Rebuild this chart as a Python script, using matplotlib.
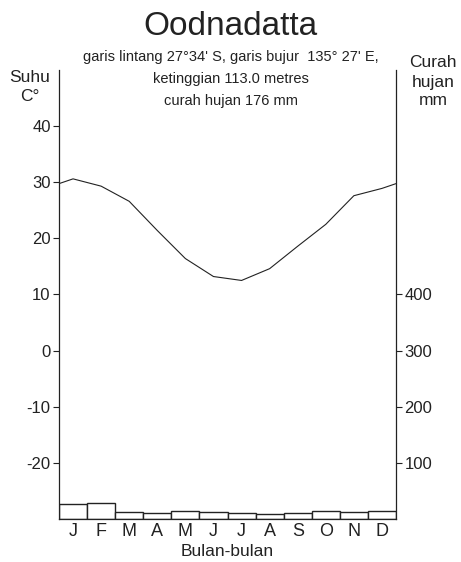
import numpy as np
import matplotlib
matplotlib.use("Agg")
import matplotlib.pyplot as plt

plt.rcParams['font.family'] = ['Liberation Sans', 'DejaVu Sans']
plt.rcParams['axes.unicode_minus'] = False

# Data iklim Oodnadatta
bulan = ["J", "F", "M", "A", "M", "J", "J", "A", "S", "O", "N", "D"]
suhu = [30.6, 29.3, 26.6, 21.4, 16.4, 13.2, 12.5, 14.6, 18.6, 22.5, 27.6, 28.9]
hujan = [27, 28, 13, 10, 15, 12, 11, 9, 10, 14, 12, 15]
suhu_ticks = [-20, -10, 0, 10, 20, 30, 40]
hujan_ticks = [100, 200, 300, 400]

warna = "#222222"

fig = plt.figure(figsize=(4.61, 5.62), dpi=100)
ax = fig.add_axes([0.128, 0.0765, 0.731, 0.799])
ax2 = ax.twinx()

x = np.arange(12) + 0.5

# batang curah hujan (sumbu kanan)
ax2.bar(x, hujan, width=1.0, color="white", edgecolor=warna, linewidth=1.0)
ax2.set_ylim(0, 800)
ax2.set_yticks(hujan_ticks)
ax2.tick_params(axis="y", length=4, width=0.8, pad=2, labelsize=12, colors=warna)

# garis suhu, diulang di ujung supaya menyambung sampai tepi
x_garis = np.concatenate([[-0.5], x, [12.5]])
y_garis = np.concatenate([[suhu[-1]], suhu, [suhu[0]]])
ax.plot(x_garis, y_garis, color=warna, linewidth=0.8, zorder=5)
ax.set_zorder(ax2.get_zorder() + 1)
ax.patch.set_visible(False)

ax.set_xlim(0, 12)
ax.set_ylim(-30, 50)
ax.set_yticks(suhu_ticks)
ax.set_xticks(x)
ax.set_xticklabels(bulan)
ax.tick_params(axis="x", length=0, pad=3, labelsize=13, colors=warna)
ax.tick_params(axis="y", length=4, width=0.8, pad=2, labelsize=12, colors=warna)
ax.set_xlabel("Bulan-bulan", fontsize=12.5, color=warna, labelpad=3)

# satu set garis tepi saja
for s in ("top", "right"):
    ax.spines[s].set_visible(False)
for s in ("top", "left", "bottom"):
    ax2.spines[s].set_visible(False)
for sp in (ax.spines["left"], ax.spines["bottom"], ax2.spines["right"]):
    sp.set_linewidth(0.9)
    sp.set_color(warna)

fig.text(0.5, 0.9377, "Oodnadatta", ha="center", va="baseline", fontsize=24, color=warna)
fig.text(0.5, 0.899, "garis lintang 27°34' S, garis bujur  135° 27' E,", ha="center", va="center",
         fontsize=10.5, color=warna)
fig.text(0.5, 0.860, "ketinggian 113.0 metres", ha="center", va="center", fontsize=10.5, color=warna)
fig.text(0.5, 0.821, "curah hujan 176 mm", ha="center", va="center", fontsize=10.5, color=warna)

fig.text(0.065, 0.862, "Suhu", ha="center", va="center", fontsize=12.5, color=warna)
fig.text(0.065, 0.828, "C°", ha="center", va="center", fontsize=12.5, color=warna)
fig.text(0.94, 0.888, "Curah", ha="center", va="center", fontsize=12.5, color=warna)
fig.text(0.94, 0.854, "hujan", ha="center", va="center", fontsize=12.5, color=warna)
fig.text(0.94, 0.822, "mm", ha="center", va="center", fontsize=12.5, color=warna)

fig.savefig("out.png", dpi=100)
